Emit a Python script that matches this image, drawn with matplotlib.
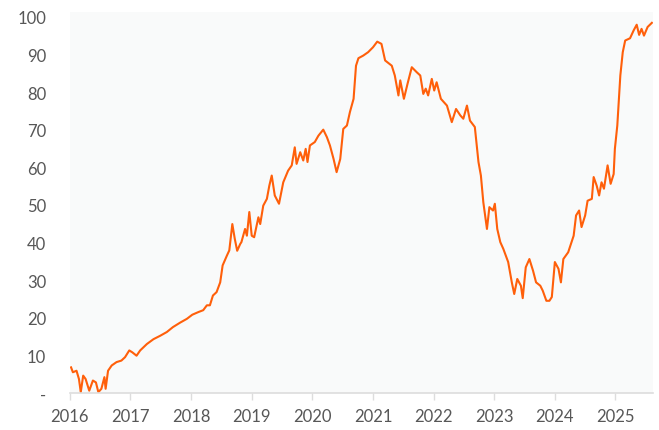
import numpy as np
import matplotlib
matplotlib.use('Agg')
import matplotlib.pyplot as plt

# series (decimal year, value)
years = [
    2016.02, 2016.05, 2016.11, 2016.15, 2016.18, 2016.22, 2016.26, 2016.32, 2016.38, 2016.43,
    2016.47, 2016.52, 2016.57, 2016.59, 2016.63, 2016.69, 2016.77, 2016.85, 2016.91, 2016.98,
    2017.03, 2017.10, 2017.16, 2017.27, 2017.38, 2017.49, 2017.60, 2017.70, 2017.82, 2017.93,
    2018.02, 2018.12, 2018.20, 2018.26, 2018.31, 2018.36, 2018.42, 2018.48, 2018.52, 2018.59,
    2018.63, 2018.68, 2018.72, 2018.76, 2018.81, 2018.83, 2018.89, 2018.92, 2018.96, 2019.00,
    2019.04, 2019.11, 2019.14, 2019.19, 2019.25, 2019.29, 2019.33, 2019.38, 2019.45, 2019.52,
    2019.60, 2019.66, 2019.71, 2019.74, 2019.80, 2019.85, 2019.89, 2019.92, 2019.96, 2020.04,
    2020.10, 2020.18, 2020.24, 2020.29, 2020.35, 2020.40, 2020.46, 2020.51, 2020.57, 2020.62,
    2020.68, 2020.72, 2020.76, 2020.84, 2020.92, 2021.00, 2021.07, 2021.14, 2021.20, 2021.31,
    2021.36, 2021.42, 2021.45, 2021.51, 2021.57, 2021.64, 2021.72, 2021.78, 2021.83, 2021.87,
    2021.91, 2021.97, 2022.01, 2022.05, 2022.12, 2022.22, 2022.30, 2022.37, 2022.44, 2022.49,
    2022.55, 2022.60, 2022.68, 2022.74, 2022.78, 2022.82, 2022.88, 2022.92, 2022.98, 2023.01,
    2023.05, 2023.10, 2023.15, 2023.23, 2023.29, 2023.33, 2023.38, 2023.44, 2023.47, 2023.52,
    2023.58, 2023.64, 2023.69, 2023.76, 2023.80, 2023.86, 2023.91, 2023.95, 2024.00, 2024.06,
    2024.10, 2024.14, 2024.22, 2024.31, 2024.35, 2024.40, 2024.44, 2024.50, 2024.54, 2024.61,
    2024.64, 2024.69, 2024.73, 2024.77, 2024.81, 2024.87, 2024.92, 2024.97, 2024.99, 2025.03,
    2025.08, 2025.12, 2025.16, 2025.24, 2025.30, 2025.35, 2025.39, 2025.43, 2025.47, 2025.53,
    2025.60,
]
values = [
    6.8, 5.5, 5.9, 3.7, 0.2, 4.6, 3.7, 0.6, 3.3, 2.8,
    0.2, 1.1, 4.2, 1.1, 5.9, 7.3, 8.2, 8.6, 9.5, 11.3,
    10.8, 9.9, 11.3, 13.0, 14.3, 15.2, 16.2, 17.5, 18.7, 19.7,
    20.8, 21.5, 22.0, 23.3, 23.3, 25.9, 26.8, 29.4, 33.9, 36.5,
    37.9, 44.9, 41.0, 37.8, 39.6, 40.1, 43.6, 41.8, 48.1, 41.8,
    41.4, 46.7, 44.9, 49.8, 51.6, 55.1, 57.8, 52.5, 50.3, 56.0,
    59.1, 60.5, 65.3, 60.9, 64.0, 61.8, 64.9, 61.4, 65.8, 66.7,
    68.4, 70.0, 68.0, 65.8, 62.2, 58.7, 62.2, 70.2, 71.1, 74.7,
    78.2, 87.0, 89.0, 89.7, 90.6, 91.9, 93.4, 92.8, 88.4, 87.0,
    84.4, 79.1, 83.1, 78.2, 82.2, 86.6, 85.3, 84.4, 79.5, 80.9,
    79.1, 83.5, 80.4, 82.6, 78.2, 76.4, 72.0, 75.5, 73.8, 72.9,
    76.4, 72.4, 70.7, 61.4, 57.8, 50.7, 43.6, 49.4, 48.5, 50.3,
    43.6, 40.1, 38.3, 34.8, 29.4, 26.3, 30.3, 28.5, 25.2, 33.4,
    35.6, 32.5, 29.4, 28.5, 27.2, 24.5, 24.5, 25.5, 34.8, 33.0,
    29.4, 35.6, 37.4, 41.8, 47.2, 48.5, 44.1, 47.2, 51.1, 51.6,
    57.4, 55.1, 52.5, 56.0, 54.3, 60.5, 55.6, 58.2, 64.9, 71.1,
    84.4, 90.6, 93.7, 94.3, 96.4, 97.9, 95.2, 96.8, 95.0, 97.3,
    98.4,
]

year_ticks = list(range(2016, 2026))
value_ticks = list(range(0, 101, 10))
value_labels = ['-'] + [str(v) for v in value_ticks[1:]]

plt.rcParams['font.family'] = ['Lato', 'DejaVu Sans']

fig = plt.figure(figsize=(6.59, 4.31), dpi=100)
ax = fig.add_axes([0.106, 0.086, 0.885, 0.884])
ax.set_facecolor('#F9FAFA')

ax.plot(years, values, color='#FF5F0A', lw=1.5)

ax.set_xlim(2016, 2025.62)
ax.set_ylim(0, 101.3)

ax.set_xticks(year_ticks)
ax.set_xticklabels([str(y) for y in year_ticks])
ax.set_yticks(value_ticks)
ax.set_yticklabels(value_labels)

for side in ['top', 'right', 'left']:
    ax.spines[side].set_visible(False)
ax.spines['bottom'].set_color('#DDDDDD')
ax.spines['bottom'].set_linewidth(1.2)

ax.tick_params(axis='x', colors='#DDDDDD', length=5, width=1, pad=6,
               labelcolor='#575757', labelsize=12)
ax.tick_params(axis='y', length=0, pad=17, labelcolor='#575757', labelsize=12)

fig.savefig('out.png', dpi=100)
